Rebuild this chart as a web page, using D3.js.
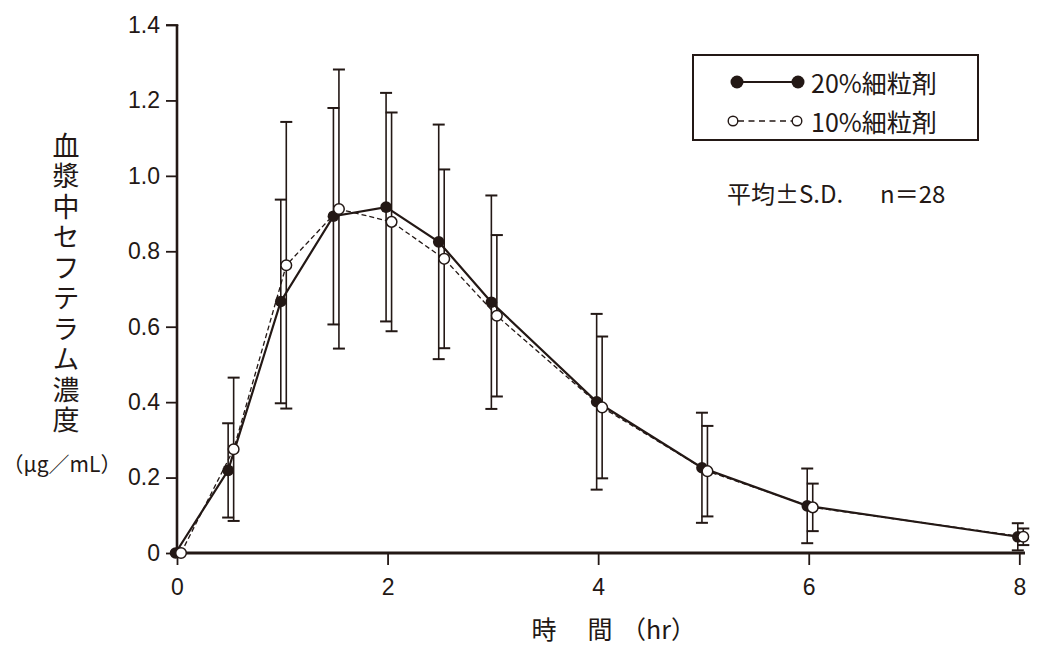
<!DOCTYPE html>
<html>
<head>
<meta charset="utf-8">
<script src="https://cdn.jsdelivr.net/npm/d3@7"></script>
<style>
  html, body { margin: 0; padding: 0; background: #fff; }
  svg { display: block; }
</style>
</head>
<body>
<svg id="chart" width="1047" height="661"></svg>
<script>
// ---- data ----
const times = [0, 0.5, 1, 1.5, 2, 2.5, 3, 4, 5, 6, 8];
const mean20 = [0, 0.219, 0.667, 0.893, 0.917, 0.825, 0.665, 0.401, 0.226, 0.125, 0.043];
const sd20   = [0, 0.125, 0.270, 0.287, 0.303, 0.311, 0.283, 0.233, 0.146, 0.099, 0.036];
const mean10 = [0, 0.275, 0.763, 0.912, 0.878, 0.780, 0.629, 0.386, 0.217, 0.121, 0.043];
const sd10   = [0, 0.190, 0.380, 0.370, 0.290, 0.237, 0.214, 0.188, 0.120, 0.063, 0.022];
const xTicks = [0, 2, 4, 6, 8];
const yTicks = [0, 0.2, 0.4, 0.6, 0.8, 1.0, 1.2, 1.4];
const yTitle = "血漿中セフテラム濃度";
const yUnit = "（μg／mL）";
const xTitleParts = ["時", "間", "（hr）"];
const legendLabels = ["20%細粒剤", "10%細粒剤"];
const noteLeft = "平均±S.D.";
const noteRight = "n＝28";

// ---- setup ----
const ink = "#231815";
const svg = d3.select("#chart");
const x = d3.scaleLinear().domain([0, 8]).range([177, 1019.3]);
const y = d3.scaleLinear().domain([0, 1.4]).range([553, 25]);
const numFont = "'Liberation Sans', Arial, sans-serif";
const jpFont = "'Noto Sans CJK JP', 'Noto Sans', sans-serif";

const off20 = -1.5, off10 = 4;
const capHalf = 6;

const series = [
  { mean: mean20, sd: sd20, off: off20 },
  { mean: mean10, sd: sd10, off: off10 }
];

// ---- error bars ----
series.forEach(s => {
  const g = svg.append("g").attr("stroke", ink).attr("stroke-width", 1.6).attr("fill", "none");
  times.forEach((t, i) => {
    if (s.sd[i] <= 0) return;
    const cx = x(t) + s.off;
    const top = y(s.mean[i] + s.sd[i]);
    const bot = y(Math.max(0, s.mean[i] - s.sd[i]));
    g.append("line").attr("x1", cx).attr("x2", cx).attr("y1", top).attr("y2", bot);
    g.append("line").attr("x1", cx - capHalf).attr("x2", cx + capHalf).attr("y1", top).attr("y2", top).attr("stroke-width", 2);
    g.append("line").attr("x1", cx - capHalf).attr("x2", cx + capHalf).attr("y1", bot).attr("y2", bot).attr("stroke-width", 2);
  });
});

// ---- axes ----
const yAxis = d3.axisLeft(y).tickValues(yTicks).tickSize(11).tickPadding(6)
  .tickFormat(d => d === 0 ? "0" : d.toFixed(1));
const gy = svg.append("g").attr("transform", "translate(177,0)").call(yAxis);
gy.select(".domain").attr("stroke", ink).attr("stroke-width", 2.6).attr("d", `M0,${y(1.4)}V${y(0)}`);
gy.selectAll(".tick line").attr("stroke", ink).attr("stroke-width", 1.8);
gy.selectAll(".tick text").attr("fill", ink).style("font-family", numFont).style("font-size", "23px");
gy.append("line").attr("x1", -11).attr("x2", 1.3).attr("y1", y(1.4)).attr("y2", y(1.4)).attr("stroke", ink).attr("stroke-width", 1.8);

const xAxis = d3.axisBottom(x).tickValues(xTicks).tickSize(12).tickPadding(14).tickFormat(d3.format("d"));
const gx = svg.append("g").attr("transform", "translate(0,553)").call(xAxis);
gx.select(".domain").attr("stroke", ink).attr("stroke-width", 2.8).attr("d", `M${x(0)},0H1025`);
gx.selectAll(".tick line").attr("stroke", ink).attr("stroke-width", 1.8);
gx.selectAll(".tick text").attr("fill", ink).style("font-family", numFont).style("font-size", "23px");

// ---- lines ----
const line10 = d3.line().x((d, i) => x(times[i]) + off10).y(d => y(d));
const line20 = d3.line().x((d, i) => x(times[i]) + off20).y(d => y(d));
svg.append("path").attr("d", line10(mean10)).attr("fill", "none").attr("stroke", ink)
  .attr("stroke-width", 1.3).attr("stroke-dasharray", "5,3");
svg.append("path").attr("d", line20(mean20)).attr("fill", "none").attr("stroke", ink)
  .attr("stroke-width", 2.2);

// ---- markers ----
svg.append("g").selectAll("circle").data(mean20).join("circle")
  .attr("cx", (d, i) => x(times[i]) + off20).attr("cy", d => y(d)).attr("r", 5.8)
  .attr("fill", ink);
svg.append("g").selectAll("circle").data(mean10).join("circle")
  .attr("cx", (d, i) => x(times[i]) + off10).attr("cy", d => y(d)).attr("r", 5.3)
  .attr("fill", "#fff").attr("stroke", ink).attr("stroke-width", 1.5);

// ---- y title (vertical) ----
svg.append("text").attr("x", 66).attr("y", 132)
  .attr("writing-mode", "vertical-rl")
  .style("letter-spacing", "3.5px")
  .attr("fill", ink).style("font-family", jpFont).style("font-size", "27px").text(yTitle);
svg.append("text").attr("x", 62).attr("y", 463).attr("text-anchor", "middle")
  .attr("dominant-baseline", "central").attr("fill", ink)
  .style("font-family", jpFont).style("font-size", "21px").text(yUnit);

// ---- x title ----
const xtg = svg.append("g").attr("fill", ink).style("font-family", jpFont).style("font-size", "25px");
xtg.append("text").attr("x", 544).attr("y", 628).attr("text-anchor", "middle").attr("dominant-baseline", "central").text(xTitleParts[0]);
xtg.append("text").attr("x", 600).attr("y", 628).attr("text-anchor", "middle").attr("dominant-baseline", "central").text(xTitleParts[1]);
xtg.append("text").attr("x", 621).attr("y", 628).attr("text-anchor", "start").attr("dominant-baseline", "central").text(xTitleParts[2]);

// ---- legend ----
const lg = svg.append("g");
lg.append("rect").attr("x", 693).attr("y", 55).attr("width", 285).attr("height", 85)
  .attr("fill", "none").attr("stroke", ink).attr("stroke-width", 2);
lg.append("line").attr("x1", 737).attr("x2", 798).attr("y1", 82).attr("y2", 82).attr("stroke", ink).attr("stroke-width", 2);
[737, 798].forEach(cx => lg.append("circle").attr("cx", cx).attr("cy", 82).attr("r", 6.5).attr("fill", ink));
lg.append("line").attr("x1", 738).attr("x2", 792).attr("y1", 121).attr("y2", 121).attr("stroke", ink)
  .attr("stroke-width", 1.4).attr("stroke-dasharray", "6,4.5");
[733, 797].forEach(cx => lg.append("circle").attr("cx", cx).attr("cy", 121).attr("r", 4.8)
  .attr("fill", "#fff").attr("stroke", ink).attr("stroke-width", 1.4));
legendLabels.forEach((t, i) => {
  lg.append("text").attr("x", 811).attr("y", i === 0 ? 82 : 121).attr("dominant-baseline", "central")
    .attr("fill", ink).style("font-family", jpFont).style("font-size", "25px").text(t);
});

// ---- annotation ----
svg.append("text").attr("x", 727).attr("y", 192).attr("dominant-baseline", "central").attr("fill", ink)
  .style("font-family", jpFont).style("font-size", "24px").text(noteLeft);
svg.append("text").attr("x", 880).attr("y", 192).attr("dominant-baseline", "central").attr("fill", ink)
  .style("font-family", jpFont).style("font-size", "24px").text(noteRight);
</script>
</body>
</html>
